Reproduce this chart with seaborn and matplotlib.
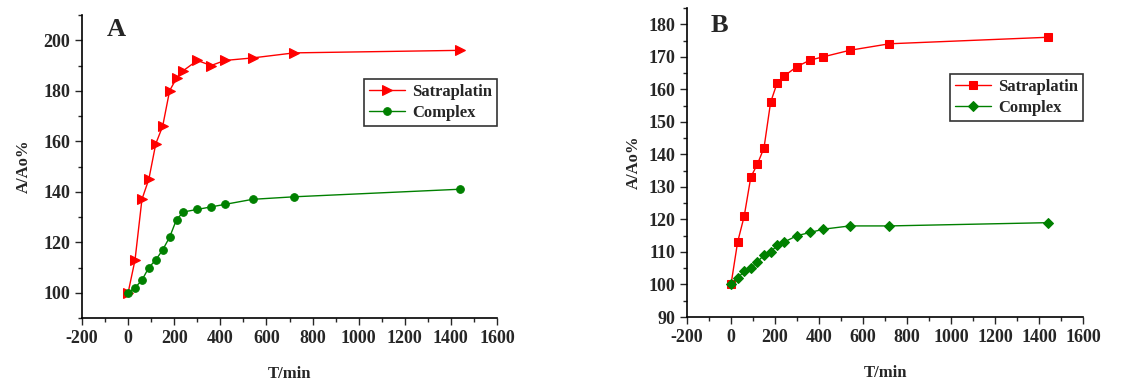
import matplotlib
matplotlib.use("Agg")
import matplotlib.pyplot as plt
import seaborn as sns
import pandas as pd
from matplotlib.ticker import MultipleLocator

time_min = [0, 30, 60, 90, 120, 150, 180, 210, 240, 300, 360, 420, 540, 720, 1440]

satra_a = [100, 113, 137, 145, 159, 166, 180, 185, 188, 192, 190, 192, 193, 195, 196]
complex_a = [100, 102, 105, 110, 113, 117, 122, 129, 132, 133, 134, 135, 137, 138, 141]

satra_b = [100, 113, 121, 133, 137, 142, 156, 162, 164, 167, 169, 170, 172, 174, 176]
complex_b = [100, 102, 104, 105, 107, 109, 110, 112, 113, 115, 116, 117, 118, 118, 119]

sns.set_style("ticks")
plt.rcParams['font.family'] = ['Liberation Serif', 'DejaVu Serif']
plt.rcParams['font.weight'] = 'bold'
plt.rcParams['axes.labelweight'] = 'bold'
plt.rcParams['axes.unicode_minus'] = False

fig = plt.figure(figsize=(11.37, 3.83), dpi=100)
ax_a = fig.add_axes([82 / 1137, 65 / 383, 415 / 1137, 303 / 383])
ax_b = fig.add_axes([687 / 1137, 66 / 383, 396 / 1137, 309 / 383])


def draw(ax, satra, comp, sat_marker, comp_marker, sizes, ylim, ymajor, yminor, label, label_y, legend_pos, ypad):
    df = pd.DataFrame({"T": time_min, "Satraplatin": satra, "Complex": comp})
    sns.lineplot(data=df, x="T", y="Satraplatin", ax=ax, color="red", marker=sat_marker,
                 markersize=sizes[0], markeredgecolor="red", linewidth=1, label="Satraplatin")
    sns.lineplot(data=df, x="T", y="Complex", ax=ax, color="green", marker=comp_marker,
                 markersize=sizes[1], markeredgecolor="green", linewidth=1, label="Complex")
    ax.set_xlim(-200, 1600)
    ax.set_ylim(*ylim)
    ax.xaxis.set_major_locator(MultipleLocator(200))
    ax.xaxis.set_minor_locator(MultipleLocator(100))
    ax.yaxis.set_major_locator(MultipleLocator(ymajor))
    ax.yaxis.set_minor_locator(MultipleLocator(yminor))
    ax.tick_params(which="major", length=5, width=1, labelsize=13, direction="out")
    ax.tick_params(which="minor", length=3, width=1, direction="out")
    for lab in ax.get_xticklabels() + ax.get_yticklabels():
        lab.set_fontweight("bold")
    sns.despine(ax=ax)
    for s in ["left", "bottom"]:
        ax.spines[s].set_linewidth(1.2)
        ax.spines[s].set_color("black")
    ax.set_xlabel("T/min", fontsize=12, fontweight="bold", labelpad=14)
    ax.set_ylabel("A/Ao%", fontsize=12, fontweight="bold", labelpad=ypad)
    ax.text(0.06, label_y, label, transform=ax.transAxes, fontsize=19, fontweight="bold",
            va="top", ha="left")
    leg = ax.legend(loc="upper right", bbox_to_anchor=legend_pos, frameon=True, fancybox=False,
                    edgecolor="black", fontsize=12, handlelength=2.2, borderpad=0.3,
                    labelspacing=0.3, handletextpad=0.4, borderaxespad=0)
    leg.get_frame().set_linewidth(1.2)
    for t in leg.get_texts():
        t.set_fontweight("bold")


draw(ax_a, satra_a, complex_a, ">", "o", (7, 5.5), (90, 210), 20, 10, "A", 0.99, (1.0, 0.79), 8)
draw(ax_b, satra_b, complex_b, "s", "D", (5.5, 5), (90, 185), 10, 5, "B", 0.98, (1.0, 0.786), 5)

fig.savefig("out.png", dpi=100)
